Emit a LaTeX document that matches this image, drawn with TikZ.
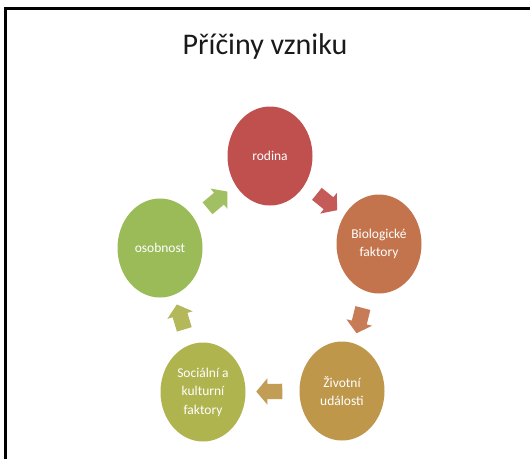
\documentclass[tikz,border=0pt]{standalone}
\usepackage{fontspec}
\setmainfont{Carlito}
\usetikzlibrary{shapes.geometric,shapes.arrows,calc}
\definecolor{crod}{HTML}{C0504D}
\definecolor{cbio}{HTML}{C3744C}
\definecolor{cziv}{HTML}{BE974B}
\definecolor{csoc}{HTML}{B0B44F}
\definecolor{coso}{HTML}{9BBB59}
\definecolor{ctitle}{HTML}{1A1A1A}
\tikzset{
  cyclenode/.style={ellipse, fill=#1, draw=none, inner sep=0pt,
    minimum width=85pt, minimum height=99pt, text=white, align=center,
    font=\fontsize{13.5}{18.5}\selectfont},
  blockarr/.style={single arrow, fill=#1, draw=none, sloped, allow upside down,
    inner xsep=0pt, inner ysep=7.5pt, minimum height=26pt,
    single arrow head extend=5.5pt, single arrow tip angle=100},
  frameline/.style={line width=3pt, black}
}
\begin{document}
\begin{tikzpicture}[x=1pt,y=-1pt]
\useasboundingbox (0,0) rectangle (530,459);
\fill[white] (0,0) rectangle (530,459);
\draw[frameline] (5,459) -- (5,8) -- (530,8);
\node[text=ctitle, font=\fontsize{30}{34}\selectfont] (title) at (265,46) {Příčiny vzniku};
\node[cyclenode=crod] (rod) at (270,156) {rodina};
\node[cyclenode=cbio] (bio) at (379,244) {Biologické\\faktory};
\node[cyclenode=cziv] (ziv) at (342,391) {Životní\\události};
\node[cyclenode=csoc] (soc) at (203,392) {Sociální a\\kulturní\\faktory};
\node[cyclenode=coso] (oso) at (160,248) {osobnost};
\path (rod) -- node[blockarr=crod!94!white] (a1) {} (bio);
\path (bio) -- node[blockarr=cbio!94!white] (a2) {} (ziv);
\path (ziv) -- node[blockarr=cziv!94!white] (a3) {} (soc);
\path (soc) -- node[blockarr=csoc!94!white] (a4) {} (oso);
\path (oso) -- node[blockarr=coso!94!white] (a5) {} (rod);
\end{tikzpicture}
\end{document}
